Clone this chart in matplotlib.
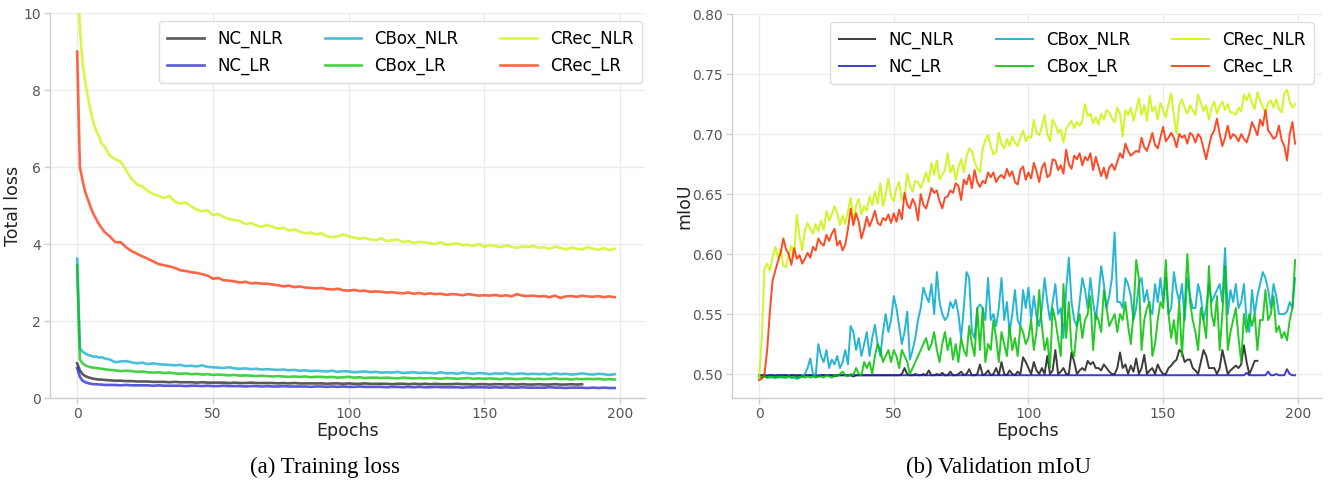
import matplotlib
matplotlib.use("Agg")
import matplotlib.pyplot as plt

series_names = ["NC_NLR", "NC_LR", "CBox_NLR", "CBox_LR", "CRec_NLR", "CRec_LR"]
colors = {"NC_NLR": "#1a1a1a", "NC_LR": "#1a1acc", "CBox_NLR": "#00a8cc",
          "CBox_LR": "#00c000", "CRec_NLR": "#c8f500", "CRec_LR": "#ff2a00"}

# ---------------- Training loss (epochs 0-9, then every 2 epochs) ----------------
loss_epochs = list(range(0, 10)) + list(range(10, 200, 2))

loss_CRec_NLR = [11.5, 9.6, 8.7, 8.2, 7.8, 7.45, 7.15, 6.95, 6.8, 6.62,
                 6.55, 6.3, 6.2, 6.15, 5.92, 5.7, 5.55, 5.5, 5.38, 5.3,
                 5.25, 5.2, 5.25, 5.1, 5.05, 5.08, 4.98, 4.9, 4.85, 4.88,
                 4.75, 4.78, 4.7, 4.65, 4.62, 4.6, 4.52, 4.55, 4.48, 4.45,
                 4.5, 4.45, 4.4, 4.42, 4.35, 4.38, 4.32, 4.28, 4.3, 4.25,
                 4.28, 4.2, 4.18, 4.2, 4.25, 4.2, 4.17, 4.14, 4.16, 4.12,
                 4.1, 4.15, 4.08, 4.1, 4.12, 4.05, 4.08, 4.03, 4.06, 4.05,
                 4.02, 4.0, 4.05, 3.98, 4.0, 4.02, 3.97, 3.98, 3.95, 4.0,
                 3.93, 3.97, 3.95, 3.92, 3.96, 3.93, 3.9, 3.94, 3.92, 3.95,
                 3.9, 3.92, 3.88, 3.93, 3.9, 3.86, 3.91, 3.88, 3.86, 3.92,
                 3.88, 3.85, 3.9, 3.84, 3.88]
loss_CRec_LR = [9.0, 6.0, 5.65, 5.35, 5.15, 4.95, 4.78, 4.65, 4.52, 4.42,
                4.32, 4.2, 4.05, 4.05, 3.92, 3.82, 3.75, 3.68, 3.62, 3.55,
                3.48, 3.45, 3.42, 3.38, 3.32, 3.3, 3.27, 3.25, 3.22, 3.18,
                3.1, 3.12, 3.06, 3.05, 3.03, 3.0, 3.02, 2.98, 2.99, 2.97,
                2.97, 2.95, 2.93, 2.9, 2.92, 2.88, 2.9, 2.87, 2.86, 2.85,
                2.86, 2.83, 2.82, 2.84, 2.8, 2.79, 2.81, 2.78, 2.79, 2.76,
                2.77, 2.76, 2.74, 2.75, 2.73, 2.72, 2.74, 2.71, 2.73, 2.7,
                2.72, 2.7, 2.71, 2.68, 2.7, 2.69, 2.67, 2.7, 2.68, 2.66,
                2.67, 2.66, 2.68, 2.65, 2.67, 2.64, 2.7, 2.66, 2.65, 2.66,
                2.64, 2.65, 2.62, 2.66, 2.6, 2.64, 2.65, 2.63, 2.66, 2.64,
                2.63, 2.65, 2.62, 2.64, 2.62]
loss_CBox_NLR = [3.62, 1.3, 1.2, 1.16, 1.12, 1.1, 1.07, 1.08, 1.05, 1.06,
                 1.03, 1.0, 0.93, 0.95, 0.96, 0.93, 0.9, 0.92, 0.88, 0.9,
                 0.88, 0.87, 0.86, 0.85, 0.86, 0.83, 0.84, 0.82, 0.85, 0.81,
                 0.8, 0.79, 0.78, 0.8, 0.77, 0.76, 0.77, 0.75, 0.76, 0.74,
                 0.75, 0.74, 0.73, 0.74, 0.72, 0.73, 0.71, 0.72, 0.7, 0.71,
                 0.7, 0.69, 0.71, 0.68, 0.7, 0.69, 0.67, 0.68, 0.69, 0.67,
                 0.68, 0.66, 0.67, 0.66, 0.68, 0.65, 0.66, 0.67, 0.65, 0.66,
                 0.65, 0.64, 0.67, 0.64, 0.65, 0.63, 0.66, 0.64, 0.63, 0.65,
                 0.64, 0.62, 0.64, 0.63, 0.65, 0.62, 0.63, 0.64, 0.62, 0.63,
                 0.62, 0.63, 0.61, 0.64, 0.62, 0.63, 0.61, 0.62, 0.64, 0.62,
                 0.61, 0.63, 0.62, 0.6, 0.62]
loss_CBox_LR = [3.45, 1.0, 0.9, 0.85, 0.82, 0.8, 0.79, 0.78, 0.77, 0.76,
                0.75, 0.73, 0.72, 0.7, 0.71, 0.7, 0.68, 0.69, 0.67, 0.66,
                0.67, 0.65, 0.66, 0.64, 0.63, 0.64, 0.62, 0.63, 0.61, 0.62,
                0.6, 0.61, 0.6, 0.59, 0.6, 0.58, 0.59, 0.58, 0.57, 0.58,
                0.57, 0.56, 0.57, 0.56, 0.55, 0.56, 0.55, 0.56, 0.54, 0.55,
                0.55, 0.54, 0.55, 0.53, 0.54, 0.55, 0.53, 0.54, 0.52, 0.53,
                0.53, 0.52, 0.53, 0.52, 0.51, 0.53, 0.52, 0.51, 0.52, 0.51,
                0.52, 0.51, 0.5, 0.52, 0.51, 0.5, 0.51, 0.52, 0.5, 0.51,
                0.5, 0.51, 0.5, 0.49, 0.51, 0.5, 0.49, 0.5, 0.51, 0.49,
                0.5, 0.49, 0.5, 0.51, 0.49, 0.5, 0.48, 0.5, 0.49, 0.5,
                0.49, 0.5, 0.48, 0.49, 0.48]
loss_NC_NLR = [0.9, 0.72, 0.62, 0.57, 0.54, 0.52, 0.5, 0.49, 0.48, 0.48,
               0.47, 0.46, 0.45, 0.45, 0.44, 0.44, 0.43, 0.43, 0.43, 0.42,
               0.42, 0.42, 0.41, 0.42, 0.41, 0.41, 0.41, 0.4, 0.41, 0.4,
               0.4, 0.4, 0.4, 0.39, 0.4, 0.39, 0.39, 0.4, 0.39, 0.39,
               0.39, 0.39, 0.38, 0.39, 0.38, 0.39, 0.38, 0.38, 0.38, 0.38,
               0.38, 0.37, 0.38, 0.38, 0.37, 0.38, 0.37, 0.37, 0.38, 0.37,
               0.37, 0.37, 0.37, 0.36, 0.37, 0.37, 0.36, 0.37, 0.36, 0.37,
               0.36, 0.37, 0.36, 0.36, 0.36, 0.37, 0.36, 0.36, 0.35, 0.36,
               0.36, 0.35, 0.36, 0.36, 0.35, 0.36, 0.35, 0.36, 0.35, 0.35,
               0.36, 0.35, 0.35, 0.36, 0.35, 0.35, 0.36, 0.35, 0.36]
loss_NC_LR = [0.78, 0.55, 0.45, 0.41, 0.39, 0.37, 0.36, 0.36, 0.35, 0.35,
              0.34, 0.34, 0.34, 0.33, 0.34, 0.33, 0.33, 0.33, 0.33, 0.32,
              0.33, 0.32, 0.32, 0.32, 0.32, 0.31, 0.32, 0.32, 0.31, 0.32,
              0.31, 0.31, 0.32, 0.31, 0.31, 0.31, 0.3, 0.31, 0.31, 0.3,
              0.31, 0.3, 0.3, 0.31, 0.3, 0.3, 0.3, 0.3, 0.29, 0.3,
              0.3, 0.29, 0.3, 0.29, 0.3, 0.29, 0.29, 0.3, 0.29, 0.29,
              0.29, 0.29, 0.28, 0.29, 0.29, 0.28, 0.29, 0.28, 0.29, 0.28,
              0.28, 0.29, 0.28, 0.28, 0.28, 0.28, 0.27, 0.28, 0.28, 0.28,
              0.28, 0.27, 0.28, 0.27, 0.28, 0.27, 0.27, 0.28, 0.27, 0.27,
              0.27, 0.27, 0.28, 0.27, 0.27, 0.26, 0.27, 0.27, 0.27, 0.26,
              0.27, 0.26, 0.27, 0.26, 0.26]

# ---------------- Validation mIoU (every epoch) ----------------
miou_CRec_NLR = [0.495, 0.530, 0.588, 0.592, 0.586, 0.597, 0.606, 0.597, 0.604, 0.590,
                 0.589, 0.600, 0.607, 0.598, 0.633, 0.615, 0.603, 0.620, 0.626, 0.621,
                 0.617, 0.625, 0.619, 0.628, 0.620, 0.636, 0.628, 0.633, 0.640, 0.634,
                 0.624, 0.632, 0.625, 0.636, 0.647, 0.628, 0.640, 0.646, 0.633, 0.640,
                 0.636, 0.648, 0.641, 0.652, 0.642, 0.659, 0.640, 0.650, 0.663, 0.648,
                 0.644, 0.655, 0.660, 0.645, 0.648, 0.667, 0.657, 0.652, 0.661, 0.660,
                 0.655, 0.661, 0.668, 0.660, 0.676, 0.666, 0.678, 0.662, 0.666, 0.670,
                 0.684, 0.668, 0.674, 0.662, 0.672, 0.679, 0.668, 0.681, 0.688, 0.686,
                 0.677, 0.671, 0.668, 0.688, 0.695, 0.699, 0.690, 0.683, 0.685, 0.701,
                 0.692, 0.688, 0.696, 0.690, 0.698, 0.693, 0.690, 0.697, 0.703, 0.694,
                 0.698, 0.697, 0.712, 0.701, 0.699, 0.706, 0.716, 0.700, 0.694, 0.712,
                 0.708, 0.701, 0.704, 0.693, 0.704, 0.708, 0.711, 0.705, 0.710, 0.707,
                 0.711, 0.725, 0.715, 0.717, 0.709, 0.714, 0.708, 0.717, 0.712, 0.720,
                 0.718, 0.713, 0.710, 0.722, 0.717, 0.698, 0.720, 0.716, 0.722, 0.711,
                 0.720, 0.730, 0.716, 0.724, 0.711, 0.732, 0.719, 0.723, 0.712, 0.726,
                 0.720, 0.714, 0.725, 0.734, 0.715, 0.700, 0.724, 0.729, 0.722, 0.717,
                 0.724, 0.720, 0.716, 0.733, 0.726, 0.719, 0.724, 0.712, 0.722, 0.727,
                 0.717, 0.723, 0.727, 0.720, 0.725, 0.718, 0.718, 0.716, 0.722, 0.719,
                 0.733, 0.728, 0.734, 0.726, 0.721, 0.735, 0.728, 0.723, 0.717, 0.726,
                 0.728, 0.722, 0.729, 0.721, 0.718, 0.734, 0.737, 0.727, 0.722, 0.725]
miou_CRec_LR = [0.495, 0.496, 0.500, 0.520, 0.552, 0.578, 0.586, 0.594, 0.601, 0.613,
                0.604, 0.600, 0.591, 0.605, 0.596, 0.599, 0.592, 0.596, 0.601, 0.597,
                0.606, 0.603, 0.613, 0.609, 0.607, 0.616, 0.611, 0.617, 0.621, 0.607,
                0.611, 0.603, 0.608, 0.621, 0.638, 0.624, 0.634, 0.627, 0.613, 0.621,
                0.631, 0.623, 0.629, 0.636, 0.626, 0.624, 0.630, 0.628, 0.633, 0.626,
                0.634, 0.627, 0.637, 0.629, 0.651, 0.641, 0.638, 0.646, 0.641, 0.628,
                0.650, 0.641, 0.638, 0.646, 0.655, 0.651, 0.653, 0.644, 0.638, 0.647,
                0.648, 0.653, 0.651, 0.659, 0.657, 0.645, 0.662, 0.658, 0.666, 0.655,
                0.670, 0.660, 0.656, 0.661, 0.659, 0.668, 0.664, 0.668, 0.660, 0.664,
                0.666, 0.663, 0.671, 0.665, 0.669, 0.660, 0.658, 0.670, 0.673, 0.662,
                0.668, 0.663, 0.676, 0.669, 0.660, 0.672, 0.676, 0.664, 0.666, 0.679,
                0.678, 0.670, 0.674, 0.667, 0.687, 0.675, 0.671, 0.682, 0.679, 0.684,
                0.674, 0.681, 0.678, 0.684, 0.670, 0.681, 0.673, 0.665, 0.672, 0.663,
                0.672, 0.675, 0.670, 0.677, 0.684, 0.680, 0.692, 0.686, 0.682, 0.684,
                0.686, 0.685, 0.697, 0.689, 0.686, 0.693, 0.701, 0.691, 0.688, 0.697,
                0.706, 0.694, 0.697, 0.701, 0.697, 0.689, 0.700, 0.697, 0.699, 0.692,
                0.701, 0.699, 0.693, 0.700, 0.697, 0.688, 0.679, 0.690, 0.699, 0.703,
                0.713, 0.700, 0.690, 0.697, 0.707, 0.696, 0.700, 0.698, 0.694, 0.700,
                0.696, 0.693, 0.700, 0.710, 0.705, 0.699, 0.712, 0.707, 0.720, 0.703,
                0.700, 0.696, 0.698, 0.707, 0.695, 0.690, 0.678, 0.700, 0.710, 0.692]
miou_CBox_NLR = [0.497, 0.497, 0.498, 0.497, 0.497, 0.498, 0.497, 0.497, 0.498, 0.497,
                 0.497, 0.498, 0.497, 0.497, 0.496, 0.497, 0.498, 0.500, 0.505, 0.513,
                 0.500, 0.498, 0.525, 0.515, 0.510, 0.520, 0.505, 0.512, 0.508, 0.515,
                 0.505, 0.510, 0.520, 0.508, 0.540, 0.535, 0.520, 0.530, 0.515, 0.525,
                 0.535, 0.515, 0.530, 0.541, 0.525, 0.515, 0.535, 0.550, 0.535, 0.545,
                 0.565, 0.555, 0.540, 0.525, 0.535, 0.552, 0.512, 0.520, 0.530, 0.545,
                 0.555, 0.572, 0.565, 0.560, 0.575, 0.550, 0.585, 0.560, 0.550, 0.545,
                 0.548, 0.560, 0.555, 0.562, 0.550, 0.530, 0.555, 0.585, 0.580, 0.535,
                 0.530, 0.555, 0.558, 0.555, 0.545, 0.580, 0.545, 0.550, 0.540, 0.555,
                 0.580, 0.545, 0.560, 0.535, 0.550, 0.570, 0.545, 0.540, 0.570, 0.555,
                 0.572, 0.545, 0.565, 0.548, 0.540, 0.555, 0.580, 0.560, 0.545, 0.560,
                 0.575, 0.550, 0.555, 0.530, 0.570, 0.597, 0.560, 0.545, 0.540, 0.560,
                 0.580, 0.570, 0.555, 0.580, 0.560, 0.545, 0.565, 0.590, 0.575, 0.555,
                 0.565, 0.580, 0.618, 0.560, 0.560, 0.555, 0.580, 0.575, 0.565, 0.545,
                 0.555, 0.575, 0.580, 0.560, 0.570, 0.555, 0.550, 0.575, 0.560, 0.580,
                 0.560, 0.580, 0.550, 0.555, 0.585, 0.570, 0.560, 0.575, 0.545, 0.580,
                 0.565, 0.555, 0.555, 0.575, 0.565, 0.545, 0.555, 0.575, 0.560, 0.565,
                 0.570, 0.575, 0.560, 0.605, 0.550, 0.570, 0.560, 0.575, 0.555, 0.560,
                 0.575, 0.545, 0.535, 0.570, 0.550, 0.565, 0.575, 0.585, 0.580, 0.570,
                 0.555, 0.575, 0.565, 0.550, 0.550, 0.550, 0.552, 0.560, 0.555, 0.580]
miou_CBox_LR = [0.498, 0.497, 0.498, 0.497, 0.498, 0.497, 0.497, 0.498, 0.497, 0.498,
                0.497, 0.498, 0.497, 0.498, 0.497, 0.497, 0.498, 0.497, 0.498, 0.497,
                0.498, 0.497, 0.498, 0.498, 0.497, 0.499, 0.498, 0.497, 0.499, 0.498,
                0.500, 0.502, 0.499, 0.498, 0.500, 0.499, 0.505, 0.500, 0.499, 0.510,
                0.505, 0.510, 0.500, 0.515, 0.525, 0.520, 0.510, 0.515, 0.520, 0.510,
                0.520, 0.515, 0.505, 0.520, 0.515, 0.510, 0.500, 0.505, 0.510, 0.515,
                0.520, 0.525, 0.530, 0.520, 0.525, 0.535, 0.520, 0.510, 0.525, 0.535,
                0.520, 0.530, 0.512, 0.525, 0.510, 0.530, 0.520, 0.515, 0.540, 0.525,
                0.515, 0.555, 0.520, 0.555, 0.510, 0.525, 0.520, 0.545, 0.530, 0.510,
                0.535, 0.525, 0.515, 0.540, 0.520, 0.530, 0.515, 0.540, 0.535, 0.525,
                0.530, 0.545, 0.520, 0.535, 0.570, 0.540, 0.520, 0.530, 0.505, 0.555,
                0.545, 0.530, 0.515, 0.575, 0.530, 0.560, 0.520, 0.515, 0.540, 0.550,
                0.530, 0.545, 0.550, 0.565, 0.520, 0.550, 0.545, 0.535, 0.570, 0.555,
                0.540, 0.545, 0.550, 0.535, 0.550, 0.545, 0.560, 0.540, 0.525, 0.550,
                0.595, 0.580, 0.520, 0.545, 0.555, 0.560, 0.515, 0.525, 0.545, 0.560,
                0.555, 0.595, 0.550, 0.530, 0.545, 0.525, 0.560, 0.515, 0.555, 0.600,
                0.560, 0.545, 0.535, 0.520, 0.555, 0.545, 0.530, 0.590, 0.550, 0.540,
                0.565, 0.520, 0.550, 0.590, 0.520, 0.535, 0.545, 0.555, 0.530, 0.510,
                0.550, 0.535, 0.550, 0.540, 0.550, 0.520, 0.545, 0.545, 0.570, 0.545,
                0.550, 0.565, 0.535, 0.540, 0.530, 0.535, 0.528, 0.545, 0.555, 0.595]
miou_NC_NLR = [0.499, 0.499, 0.499, 0.498, 0.499, 0.499, 0.498, 0.499, 0.499, 0.499,
               0.499, 0.498, 0.499, 0.499, 0.499, 0.499, 0.498, 0.499, 0.499, 0.499,
               0.499, 0.499, 0.498, 0.499, 0.499, 0.499, 0.499, 0.499, 0.498, 0.499,
               0.499, 0.499, 0.499, 0.499, 0.499, 0.498, 0.499, 0.499, 0.499, 0.499,
               0.499, 0.499, 0.499, 0.499, 0.499, 0.499, 0.499, 0.499, 0.499, 0.499,
               0.499, 0.499, 0.499, 0.500, 0.505, 0.500, 0.499, 0.499, 0.500, 0.499,
               0.499, 0.500, 0.499, 0.503, 0.499, 0.499, 0.500, 0.499, 0.501, 0.499,
               0.499, 0.502, 0.499, 0.499, 0.500, 0.502, 0.499, 0.500, 0.504, 0.499,
               0.499, 0.500, 0.508, 0.499, 0.500, 0.503, 0.499, 0.500, 0.505, 0.499,
               0.510, 0.500, 0.499, 0.503, 0.500, 0.499, 0.502, 0.500, 0.514, 0.510,
               0.505, 0.500, 0.510, 0.503, 0.500, 0.505, 0.500, 0.515, 0.500, 0.503,
               0.520, 0.500, 0.502, 0.505, 0.500, 0.500, 0.518, 0.510, 0.500, 0.503,
               0.505, 0.503, 0.511, 0.508, 0.510, 0.505, 0.505, 0.503, 0.508, 0.505,
               0.502, 0.500, 0.500, 0.505, 0.518, 0.505, 0.508, 0.500, 0.507, 0.502,
               0.513, 0.500, 0.505, 0.516, 0.500, 0.503, 0.505, 0.500, 0.508, 0.503,
               0.500, 0.500, 0.505, 0.507, 0.510, 0.512, 0.520, 0.518, 0.510, 0.512,
               0.512, 0.505, 0.503, 0.500, 0.510, 0.520, 0.515, 0.505, 0.505, 0.505,
               0.500, 0.505, 0.520, 0.510, 0.500, 0.503, 0.505, 0.507, 0.505, 0.508,
               0.524, 0.510, 0.500, 0.505, 0.511, 0.511]
miou_NC_LR = [0.498, 0.499, 0.499, 0.499, 0.499, 0.499, 0.499, 0.499, 0.499, 0.499,
              0.499, 0.499, 0.499, 0.499, 0.498, 0.499, 0.499, 0.499, 0.499, 0.499,
              0.499, 0.499, 0.499, 0.499, 0.499, 0.499, 0.499, 0.499, 0.499, 0.499,
              0.499, 0.499, 0.499, 0.499, 0.499, 0.499, 0.499, 0.499, 0.499, 0.499,
              0.499, 0.499, 0.499, 0.499, 0.499, 0.499, 0.499, 0.499, 0.499, 0.499,
              0.499, 0.499, 0.499, 0.499, 0.499, 0.499, 0.499, 0.499, 0.499, 0.499,
              0.499, 0.499, 0.499, 0.499, 0.499, 0.499, 0.499, 0.499, 0.499, 0.499,
              0.499, 0.499, 0.499, 0.499, 0.499, 0.499, 0.499, 0.499, 0.499, 0.499,
              0.499, 0.499, 0.499, 0.499, 0.499, 0.499, 0.499, 0.499, 0.499, 0.499,
              0.499, 0.499, 0.499, 0.499, 0.499, 0.499, 0.499, 0.499, 0.499, 0.499,
              0.499, 0.499, 0.499, 0.499, 0.499, 0.499, 0.499, 0.499, 0.499, 0.499,
              0.499, 0.499, 0.499, 0.499, 0.499, 0.499, 0.499, 0.499, 0.499, 0.499,
              0.499, 0.499, 0.499, 0.499, 0.499, 0.499, 0.499, 0.499, 0.499, 0.499,
              0.499, 0.499, 0.499, 0.499, 0.499, 0.499, 0.499, 0.499, 0.499, 0.499,
              0.499, 0.499, 0.499, 0.499, 0.499, 0.499, 0.499, 0.499, 0.499, 0.499,
              0.499, 0.499, 0.499, 0.499, 0.499, 0.499, 0.499, 0.499, 0.499, 0.499,
              0.499, 0.499, 0.499, 0.499, 0.499, 0.499, 0.499, 0.499, 0.499, 0.499,
              0.499, 0.499, 0.499, 0.499, 0.499, 0.499, 0.499, 0.499, 0.499, 0.499,
              0.499, 0.501, 0.499, 0.499, 0.499, 0.499, 0.499, 0.499, 0.499, 0.502,
              0.499, 0.499, 0.500, 0.499, 0.499, 0.499, 0.504, 0.500, 0.499, 0.499]

loss_data = {"NC_NLR": loss_NC_NLR, "NC_LR": loss_NC_LR, "CBox_NLR": loss_CBox_NLR,
             "CBox_LR": loss_CBox_LR, "CRec_NLR": loss_CRec_NLR, "CRec_LR": loss_CRec_LR}
miou_data = {"NC_NLR": miou_NC_NLR, "NC_LR": miou_NC_LR, "CBox_NLR": miou_CBox_NLR,
             "CBox_LR": miou_CBox_LR, "CRec_NLR": miou_CRec_NLR, "CRec_LR": miou_CRec_LR}

loss_yticks = [0, 2, 4, 6, 8, 10]
miou_yticks = [0.50, 0.55, 0.60, 0.65, 0.70, 0.75, 0.80]
x_ticks = [0, 50, 100, 150, 200]

plt.rcParams['font.family'] = ['DejaVu Sans']
fig = plt.figure(figsize=(13.3, 4.86), dpi=100)

ax1 = fig.add_axes([0.0376, 0.181, 0.447, 0.792])
ax2 = fig.add_axes([0.5505, 0.181, 0.4435, 0.790])

def style(ax):
    ax.set_facecolor("white")
    ax.grid(True, color="#ebebeb", linewidth=1.0)
    ax.set_axisbelow(True)
    for s in ["top", "right"]:
        ax.spines[s].set_visible(False)
    for s in ["left", "bottom"]:
        ax.spines[s].set_color("#cfcfcf")
        ax.spines[s].set_linewidth(1.0)
    ax.tick_params(axis="both", colors="#cfcfcf", labelcolor="#555555",
                   labelsize=10, length=4, width=1, pad=2.5)
    ax.set_xticks(x_ticks)

leg_kw = dict(ncol=3, loc="upper right", fontsize=12, frameon=True,
              edgecolor="#dddddd", framealpha=1.0, columnspacing=2.5,
              handlelength=2.2, borderpad=0.5, borderaxespad=0.5)

for name in series_names:
    ys = loss_data[name]
    ax1.plot(loss_epochs[:len(ys)], ys, color=colors[name], alpha=0.72,
             linewidth=1.9, label=name)
style(ax1)
ax1.set_ylim(0, 10)
ax1.set_xlim(-10, 209)
ax1.set_yticks(loss_yticks)
ax1.set_xlabel("Epochs", fontsize=12.5, labelpad=1, color="#222222")
ax1.set_ylabel("Total loss", fontsize=12.5, labelpad=1, color="#222222")
ax1.legend(bbox_to_anchor=(1.01, 1.0), **leg_kw)

for name in series_names:
    ys = miou_data[name]
    ax2.plot(list(range(len(ys))), ys, color=colors[name], alpha=0.85,
             linewidth=1.4, label=name)
style(ax2)
ax2.set_ylim(0.48, 0.80)
ax2.set_xlim(-10, 209)
ax2.set_yticks(miou_yticks)
ax2.set_yticklabels([f"{v:.2f}" for v in miou_yticks])
ax2.set_xlabel("Epochs", fontsize=12.5, labelpad=1, color="#222222")
ax2.set_ylabel("mIoU", fontsize=12.5, labelpad=-1, color="#222222")
ax2.legend(bbox_to_anchor=(1.0, 1.0), **leg_kw)

fig.text(0.244, 0.038, "(a) Training loss", ha="center", va="center",
         fontsize=16.5, family=["Liberation Serif"])
fig.text(0.751, 0.038, "(b) Validation mIoU", ha="center", va="center",
         fontsize=16.5, family=["Liberation Serif"])

fig.savefig("out.png", dpi=100)
